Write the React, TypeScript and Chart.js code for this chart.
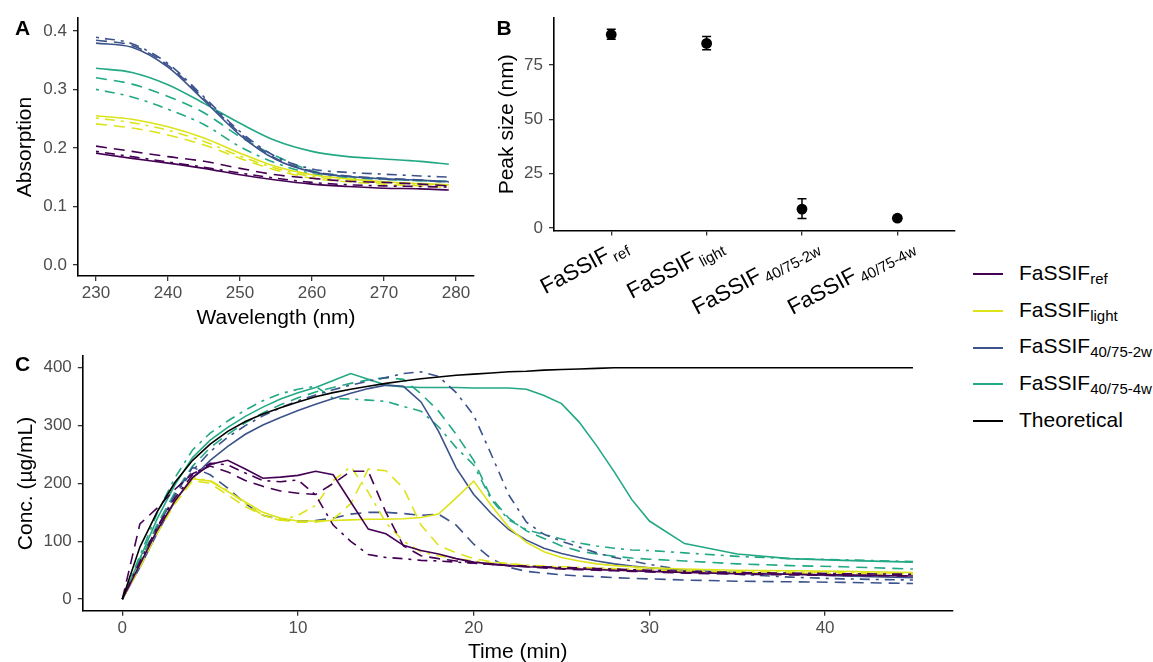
import React, { useEffect, useRef } from "react";
import { Chart, registerables } from "chart.js";

Chart.register(...registerables);

const FONT = "'Liberation Sans', Arial, Helvetica, sans-serif";
const TICK_COLOR = "#4D4D4D";

const COLOR_REF = "#440154";
const COLOR_LIGHT = "#DCE319";
const COLOR_2W = "#3B528B";
const COLOR_4W = "#22A884";
const COLOR_THEO = "#000000";

const SOLID: number[] = [];
const DASHED = [11, 7];
const DOTDASH = [3, 6, 10, 6];

// ---------------- Panel A : absorption spectra ----------------
const WAVELENGTH = [230, 235, 240, 245, 250, 255, 260, 265, 270, 275, 279];
const A_TICKS = [0, 0.1, 0.2, 0.3, 0.4];
const A_XTICKS = [230, 240, 250, 260, 270, 280];

const ABS_REF_1 = [0.191, 0.182, 0.174, 0.165, 0.154, 0.145, 0.138, 0.134, 0.131, 0.13, 0.128];
const ABS_REF_2 = [0.203, 0.194, 0.185, 0.177, 0.165, 0.154, 0.148, 0.143, 0.141, 0.138, 0.135];
const ABS_REF_3 = [0.194, 0.185, 0.176, 0.167, 0.157, 0.148, 0.141, 0.137, 0.135, 0.134, 0.133];
const ABS_LIGHT_1 = [0.255, 0.249, 0.236, 0.217, 0.191, 0.168, 0.154, 0.147, 0.142, 0.139, 0.137];
const ABS_LIGHT_2 = [0.241, 0.234, 0.222, 0.205, 0.182, 0.162, 0.148, 0.142, 0.138, 0.135, 0.132];
const ABS_LIGHT_3 = [0.251, 0.243, 0.23, 0.211, 0.186, 0.165, 0.151, 0.145, 0.141, 0.138, 0.136];
const ABS_2W_1 = [0.379, 0.372, 0.338, 0.281, 0.222, 0.18, 0.159, 0.151, 0.147, 0.145, 0.142];
const ABS_2W_2 = [0.384, 0.375, 0.341, 0.284, 0.225, 0.182, 0.16, 0.152, 0.148, 0.145, 0.141];
const ABS_2W_3 = [0.389, 0.378, 0.344, 0.287, 0.228, 0.185, 0.164, 0.158, 0.155, 0.152, 0.15];
const ABS_4W_1 = [0.336, 0.329, 0.308, 0.276, 0.242, 0.212, 0.194, 0.185, 0.181, 0.177, 0.172];
const ABS_4W_2 = [0.32, 0.309, 0.288, 0.26, 0.219, 0.186, 0.161, 0.151, 0.147, 0.144, 0.142];
const ABS_4W_3 = [0.3, 0.287, 0.266, 0.24, 0.202, 0.174, 0.156, 0.149, 0.146, 0.144, 0.143];

// ---------------- Panel B : peak size ----------------
const GROUPS = ["ref", "light", "40/75-2w", "40/75-4w"];
const PEAK_MEAN = [89.0, 84.9, 8.7, 4.5];
const PEAK_LOW = [86.8, 82.0, 4.4, 3.5];
const PEAK_HIGH = [91.4, 88.1, 13.4, 5.5];
const B_TICKS = [0, 25, 50, 75];

// ---------------- Panel C : dissolution ----------------
const TIME = [0, 1, 2, 3, 4, 5, 6, 7, 8, 9, 10, 11, 12, 13, 14, 15, 16, 17, 18, 19, 20, 21, 22, 23, 24, 25, 26, 27, 28, 29, 30, 32, 35, 38, 41, 45];
const C_XTICKS = [0, 10, 20, 30, 40];
const C_YTICKS = [0, 100, 200, 300, 400];

const CONC_THEO = [0, 90, 152, 202, 240, 268, 290, 307, 320, 331, 341, 350, 357, 363, 368, 373, 377, 381, 384, 387, 389, 391, 393, 394, 396, 397, 398, 399, 400, 400, 400, 400, 400, 400, 400, 400];
const CONC_REF_1 = [0, 60, 120, 170, 210, 233, 240, 225, 209, 211, 214, 221, 215, 168, 121, 113, 93, 84, 78, 70, 64, 61, 58, 56, 55, 53, 52, 51, 50, 49, 48, 46, 44, 43, 42, 40];
const CONC_REF_2 = [0, 130, 158, 190, 217, 230, 220, 205, 195, 187, 183, 181, 200, 221, 221, 150, 92, 75, 70, 66, 63, 60, 58, 56, 54, 52, 51, 50, 49, 48, 47, 45, 43, 42, 41, 40];
const CONC_REF_3 = [0, 65, 125, 175, 215, 235, 232, 218, 205, 203, 206, 180, 128, 100, 77, 72, 70, 67, 66, 64, 62, 60, 58, 57, 56, 55, 54, 53, 52, 51, 50, 48, 46, 45, 44, 43];
const CONC_LIGHT_1 = [0, 60, 120, 170, 208, 204, 186, 168, 150, 140, 135, 135, 136, 137, 138, 138, 139, 141, 147, 175, 204, 162, 124, 98, 82, 72, 66, 61, 58, 56, 54, 52, 50, 49, 48, 46];
const CONC_LIGHT_2 = [0, 55, 115, 165, 205, 200, 180, 160, 145, 137, 133, 133, 138, 165, 225, 222, 192, 128, 93, 80, 70, 65, 61, 58, 56, 54, 53, 52, 51, 50, 49, 48, 46, 45, 44, 43];
const CONC_LIGHT_3 = [0, 60, 120, 170, 210, 205, 188, 165, 145, 136, 145, 162, 205, 229, 185, 132, 100, 82, 75, 70, 66, 63, 61, 59, 57, 56, 55, 54, 53, 52, 51, 49, 48, 47, 46, 45];
const CONC_2W_1 = [0, 55, 115, 170, 210, 240, 264, 285, 301, 314, 326, 337, 347, 356, 364, 370, 368, 341, 290, 227, 181, 148, 120, 102, 88, 79, 72, 66, 61, 57, 54, 50, 46, 43, 40, 37];
const CONC_2W_2 = [0, 60, 125, 180, 228, 215, 192, 165, 145, 138, 135, 136, 140, 147, 150, 150, 148, 145, 147, 128, 95, 70, 55, 48, 45, 42, 40, 39, 37, 36, 35, 33, 31, 30, 29, 27];
const CONC_2W_3 = [0, 60, 125, 180, 222, 255, 280, 300, 317, 331, 343, 353, 362, 370, 377, 383, 390, 393, 385, 357, 318, 250, 180, 133, 112, 100, 90, 80, 72, 66, 60, 50, 43, 38, 35, 33];
const CONC_4W_1 = [0, 70, 140, 198, 245, 275, 297, 316, 332, 346, 357, 366, 378, 390, 380, 370, 367, 366, 366, 366, 365, 365, 365, 363, 352, 338, 306, 265, 220, 172, 135, 96, 78, 70, 67, 64];
const CONC_4W_2 = [0, 65, 130, 185, 230, 262, 285, 305, 322, 336, 348, 358, 366, 373, 379, 383, 380, 355, 325, 285, 240, 175, 140, 118, 105, 92, 83, 78, 74, 71, 69, 66, 61, 58, 56, 52];
const CONC_4W_3 = [0, 75, 150, 210, 258, 287, 308, 327, 343, 355, 363, 368, 347, 346, 344, 342, 333, 325, 298, 262, 232, 172, 137, 120, 112, 104, 97, 92, 88, 85, 84, 80, 74, 70, 68, 65];

const LEGEND_ITEMS = [
  { main: "FaSSIF", sub: "ref", color: COLOR_REF },
  { main: "FaSSIF", sub: "light", color: COLOR_LIGHT },
  { main: "FaSSIF", sub: "40/75-2w", color: COLOR_2W },
  { main: "FaSSIF", sub: "40/75-4w", color: COLOR_4W },
  { main: "Theoretical", sub: "", color: COLOR_THEO },
];

// ---------------- helpers ----------------
function lineDs(label: string, xs: number[], ys: number[], color: string, dash: number[], smooth: boolean) {
  return {
    label,
    data: xs.map((x, i) => ({ x, y: ys[i] })),
    borderColor: color,
    backgroundColor: color,
    borderWidth: 1.6,
    borderDash: dash,
    borderCapStyle: "butt",
    pointRadius: 0,
    fill: false,
    tension: 0,
    cubicInterpolationMode: smooth ? "monotone" : "default",
  };
}

function makeAxis(
  kind: "x" | "y",
  min: number,
  max: number,
  tickVals: number[],
  fitSize: number,
  title: string | null,
  titlePad: number,
  fmt: (v: number) => string,
  showLabels = true
) {
  return {
    type: "linear",
    position: kind === "x" ? "bottom" : "left",
    min,
    max,
    afterBuildTicks: (ax: any) => {
      ax.ticks = tickVals.map((v) => ({ value: v }));
    },
    afterFit: (ax: any) => {
      if (kind === "x") ax.height = fitSize;
      else ax.width = fitSize;
    },
    ticks: {
      display: showLabels,
      autoSkip: false,
      maxRotation: 0,
      minRotation: 0,
      padding: kind === "x" ? 2 : 6,
      color: TICK_COLOR,
      font: { family: FONT, size: 17 },
      callback: (v: any) => fmt(Number(v)),
    },
    grid: {
      display: true,
      drawOnChartArea: false,
      drawTicks: true,
      tickLength: 5,
      color: "#333333",
      lineWidth: 1.3,
    },
    border: { display: true, color: "#000000", width: 1.6 },
    title: title
      ? {
          display: true,
          text: title,
          color: "#000000",
          font: { family: FONT, size: 21 },
          padding: kind === "x" ? { top: 0, bottom: titlePad } : { top: titlePad, bottom: 0 },
        }
      : { display: false },
  };
}

const baseOptions = (padRight: number, padTop: number) => ({
  responsive: false,
  maintainAspectRatio: false,
  animation: false,
  events: [],
  layout: { padding: { left: 0, right: padRight, top: padTop, bottom: 0 } },
  plugins: { legend: { display: false }, tooltip: { enabled: false }, title: { display: false } },
});

function makeA(): any {
  return {
    type: "line",
    data: {
      datasets: [
        lineDs("ref-1", WAVELENGTH, ABS_REF_1, COLOR_REF, SOLID, true),
        lineDs("ref-2", WAVELENGTH, ABS_REF_2, COLOR_REF, DASHED, true),
        lineDs("ref-3", WAVELENGTH, ABS_REF_3, COLOR_REF, DOTDASH, true),
        lineDs("light-1", WAVELENGTH, ABS_LIGHT_1, COLOR_LIGHT, SOLID, true),
        lineDs("light-2", WAVELENGTH, ABS_LIGHT_2, COLOR_LIGHT, DASHED, true),
        lineDs("light-3", WAVELENGTH, ABS_LIGHT_3, COLOR_LIGHT, DOTDASH, true),
        lineDs("2w-1", WAVELENGTH, ABS_2W_1, COLOR_2W, SOLID, true),
        lineDs("2w-2", WAVELENGTH, ABS_2W_2, COLOR_2W, DASHED, true),
        lineDs("2w-3", WAVELENGTH, ABS_2W_3, COLOR_2W, DOTDASH, true),
        lineDs("4w-1", WAVELENGTH, ABS_4W_1, COLOR_4W, SOLID, true),
        lineDs("4w-2", WAVELENGTH, ABS_4W_2, COLOR_4W, DASHED, true),
        lineDs("4w-3", WAVELENGTH, ABS_4W_3, COLOR_4W, DOTDASH, true),
      ],
    },
    options: {
      ...baseOptions(6, 18),
      scales: {
        x: makeAxis("x", 227.5, 282.5, A_XTICKS, 59, "Wavelength (nm)", 4.4, (v) => String(v)),
        y: makeAxis("y", -0.019, 0.422, A_TICKS, 78, "Absorption", 12.4, (v) => v.toFixed(1)),
      },
    },
  };
}

const errorBarPlugin = {
  id: "errorBars",
  beforeDatasetsDraw(chart: any) {
    const ctx = chart.ctx;
    const xs = chart.scales.x;
    const ys = chart.scales.y;
    ctx.save();
    ctx.strokeStyle = "#000000";
    ctx.lineWidth = 1.5;
    GROUPS.forEach((_, i) => {
      const x = xs.getPixelForValue(i + 1);
      const yl = ys.getPixelForValue(PEAK_LOW[i]);
      const yh = ys.getPixelForValue(PEAK_HIGH[i]);
      ctx.beginPath();
      ctx.moveTo(x, yl);
      ctx.lineTo(x, yh);
      ctx.moveTo(x - 4.5, yl);
      ctx.lineTo(x + 4.5, yl);
      ctx.moveTo(x - 4.5, yh);
      ctx.lineTo(x + 4.5, yh);
      ctx.stroke();
    });
    ctx.restore();
  },
};

const LABEL_ANGLE = 28;
const LABEL_DX = 18;
const LABEL_DY = 19;

const groupLabelPlugin = {
  id: "groupLabels",
  afterDraw(chart: any) {
    const ctx = chart.ctx;
    const xs = chart.scales.x;
    const y0 = chart.chartArea.bottom;
    GROUPS.forEach((g, i) => {
      const x = xs.getPixelForValue(i + 1);
      ctx.save();
      ctx.translate(x + LABEL_DX, y0 + LABEL_DY);
      ctx.rotate((-LABEL_ANGLE * Math.PI) / 180);
      ctx.fillStyle = "#000000";
      ctx.textBaseline = "alphabetic";
      ctx.textAlign = "left";
      ctx.font = `15px ${FONT}`;
      const subW = ctx.measureText(g).width;
      ctx.font = `22px ${FONT}`;
      const mainW = ctx.measureText("FaSSIF").width;
      const gap = 3;
      ctx.fillText("FaSSIF", -(mainW + gap + subW), 0);
      ctx.font = `15px ${FONT}`;
      ctx.fillText(g, -subW, 5);
      ctx.restore();
    });
  },
};

function makeB(): any {
  return {
    type: "scatter",
    data: {
      datasets: [
        {
          label: "Peak size",
          data: PEAK_MEAN.map((v, i) => ({ x: i + 1, y: v })),
          pointRadius: 5.4,
          pointBackgroundColor: "#000000",
          pointBorderColor: "#000000",
          pointBorderWidth: 0,
        },
      ],
    },
    options: {
      ...baseOptions(5, 18),
      scales: {
        x: makeAxis("x", 0.4, 4.6, [1, 2, 3, 4], 104.4, null, 0, () => "", false),
        y: makeAxis("y", -1.2, 96.6, B_TICKS, 74, "Peak size (nm)", 14.4, (v) => String(v)),
      },
    },
    plugins: [errorBarPlugin, groupLabelPlugin],
  };
}

function makeC(): any {
  return {
    type: "line",
    data: {
      datasets: [
        lineDs("Theoretical", TIME, CONC_THEO, COLOR_THEO, SOLID, false),
        lineDs("ref-1", TIME, CONC_REF_1, COLOR_REF, SOLID, false),
        lineDs("ref-2", TIME, CONC_REF_2, COLOR_REF, DASHED, false),
        lineDs("ref-3", TIME, CONC_REF_3, COLOR_REF, DOTDASH, false),
        lineDs("light-1", TIME, CONC_LIGHT_1, COLOR_LIGHT, SOLID, false),
        lineDs("light-2", TIME, CONC_LIGHT_2, COLOR_LIGHT, DASHED, false),
        lineDs("light-3", TIME, CONC_LIGHT_3, COLOR_LIGHT, DOTDASH, false),
        lineDs("2w-1", TIME, CONC_2W_1, COLOR_2W, SOLID, false),
        lineDs("2w-2", TIME, CONC_2W_2, COLOR_2W, DASHED, false),
        lineDs("2w-3", TIME, CONC_2W_3, COLOR_2W, DOTDASH, false),
        lineDs("4w-1", TIME, CONC_4W_1, COLOR_4W, SOLID, false),
        lineDs("4w-2", TIME, CONC_4W_2, COLOR_4W, DASHED, false),
        lineDs("4w-3", TIME, CONC_4W_3, COLOR_4W, DOTDASH, false),
      ],
    },
    options: {
      ...baseOptions(7.5, 13.8),
      scales: {
        x: makeAxis("x", -2.25, 47.25, C_XTICKS, 59.3, "Time (min)", 5.1, (v) => String(v)),
        y: makeAxis("y", -20, 420, C_YTICKS, 82.8, "Conc. (\u00b5g/mL)", 13.4, (v) => String(v)),
      },
    },
  };
}

const LEGEND_Y0 = 274;
const LEGEND_STEP = 36.8;

export default function App() {
  const aRef = useRef<HTMLCanvasElement>(null);
  const bRef = useRef<HTMLCanvasElement>(null);
  const cRef = useRef<HTMLCanvasElement>(null);

  useEffect(() => {
    const charts = [
      new Chart(aRef.current as HTMLCanvasElement, makeA()),
      new Chart(bRef.current as HTMLCanvasElement, makeB()),
      new Chart(cRef.current as HTMLCanvasElement, makeC()),
    ];
    return () => charts.forEach((c) => c.destroy());
  }, []);

  const tagStyle = (left: number, top: number): React.CSSProperties => ({
    position: "absolute",
    left,
    top,
    fontFamily: FONT,
    fontWeight: "bold",
    fontSize: 21,
    lineHeight: "21px",
    color: "#000",
  });

  return (
    <div
      style={{
        position: "fixed",
        left: 0,
        top: 0,
        width: 1153,
        height: 662,
        overflow: "hidden",
        background: "#ffffff",
        fontFamily: FONT,
      }}
    >
      <canvas ref={aRef} width={480} height={335} style={{ position: "absolute", left: 0, top: 0, width: 480, height: 335 }} />
      <canvas ref={bRef} width={480} height={335} style={{ position: "absolute", left: 480, top: 0, width: 480, height: 335 }} />
      <canvas ref={cRef} width={960} height={330} style={{ position: "absolute", left: 0, top: 340, width: 960, height: 330 }} />
      <div style={tagStyle(15, 17.2)}>A</div>
      <div style={tagStyle(496.5, 17.2)}>B</div>
      <div style={tagStyle(15, 353.2)}>C</div>
      {LEGEND_ITEMS.map((it, i) => {
        const y = LEGEND_Y0 + i * LEGEND_STEP;
        return (
          <React.Fragment key={i}>
            <div style={{ position: "absolute", left: 973, top: y - 1, width: 30, height: 2, background: it.color }} />
            <div
              style={{
                position: "absolute",
                left: 1019,
                top: y + 5.5 - 17.8,
                fontSize: 21,
                lineHeight: "21px",
                whiteSpace: "nowrap",
                color: "#000",
                fontFamily: FONT,
              }}
            >
              {it.main}
              {it.sub ? <span style={{ fontSize: 15, position: "relative", top: 4 }}>{it.sub}</span> : null}
            </div>
          </React.Fragment>
        );
      })}
    </div>
  );
}
